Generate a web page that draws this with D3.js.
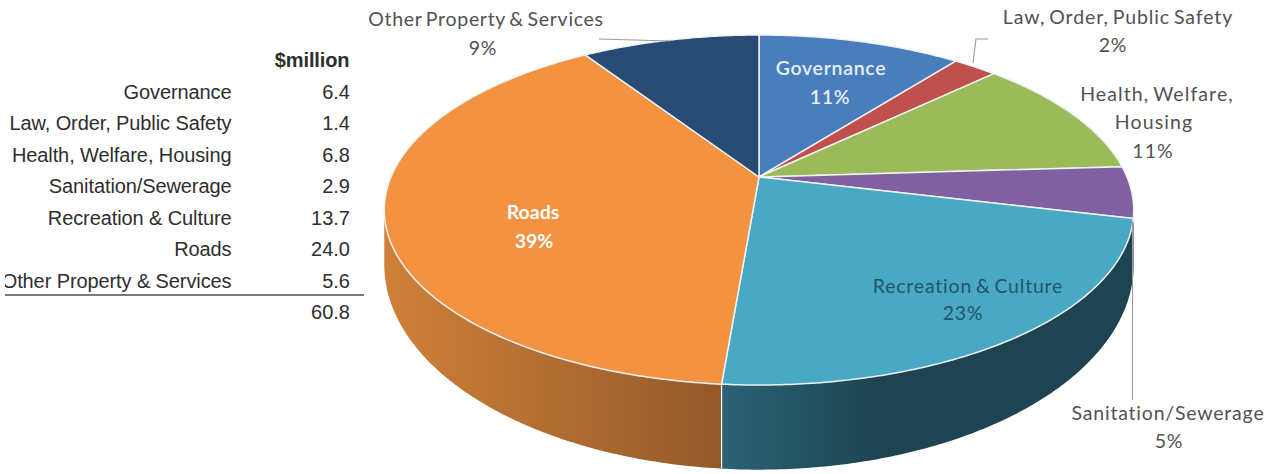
<!DOCTYPE html>
<html>
<head>
<meta charset="utf-8">
<script src="https://cdn.jsdelivr.net/npm/d3@7/dist/d3.min.js"></script>
<style>
html,body{margin:0;padding:0;background:#fff;}
svg{display:block;}
.tbl{font-family:"Liberation Sans",Arial,sans-serif;font-size:20px;fill:#2e2e2e;}
.lbl{font-family:Lato,"Open Sans",sans-serif;font-size:19.5px;text-anchor:middle;fill:#505050;word-spacing:-2px;}
</style>
</head>
<body>
<svg id="chart" width="1266" height="474"></svg>
<script>
// Council spending by function, $ million
const categories = ["Governance","Law, Order, Public Safety","Health, Welfare, Housing","Sanitation/Sewerage","Recreation & Culture","Roads","Other Property & Services"];
const spending = [6.4,1.4,6.8,2.9,13.7,24.0,5.6];
const totalLabel = "60.8";
const topColours = ["#4a7dbb","#c0504d","#9bbb59","#8060a0","#49a8c4","#f39240","#284b74"];
const wallFrom = ["#3b6495","#9a403e","#7c9647","#66507f","#2b6275","#cf8138","#203c5d"];
const wallTo = ["#3b6495","#9a403e","#7c9647","#66507f","#1d4450","#93592a","#203c5d"];
const labelLines = [
  ["Governance","11%"],
  ["Law, Order, Public Safety","2%"],
  ["Health, Welfare,","Housing","11%"],
  ["Sanitation/Sewerage","5%"],
  ["Recreation & Culture","23%"],
  ["Roads","39%"],
  ["Other Property & Services","9%"]
];

const svg = d3.select("#chart");
const defs = svg.append("defs");

/* ---------- summary table ---------- */
defs.append("clipPath").attr("id","tableClip").append("rect")
  .attr("x",5).attr("y",40).attr("width",360).attr("height",290);
const table = svg.append("g").attr("clip-path","url(#tableClip)");
const rowY = d3.scalePoint().domain(categories.concat("total")).range([99,319]);

table.append("text").attr("class","tbl").attr("x",349.5).attr("y",67)
  .attr("text-anchor","end").attr("font-weight","bold").style("letter-spacing","-0.1px").text("$million");
table.selectAll("text.name").data(categories).join("text")
  .attr("class","tbl name").attr("x",231.5).attr("y",d=>rowY(d))
  .attr("text-anchor","end").style("letter-spacing","-0.1px").text(d=>d);
table.selectAll("text.amount").data(spending).join("text")
  .attr("class","tbl amount").attr("x",350).attr("y",(d,i)=>rowY(categories[i]))
  .attr("text-anchor","end").text(d=>d.toFixed(1));
table.append("text").attr("class","tbl").attr("x",350).attr("y",rowY("total"))
  .attr("text-anchor","end").text(totalLabel);
svg.append("line").attr("x1",5).attr("x2",364).attr("y1",295).attr("y2",295)
  .attr("stroke","#4d4d4d").attr("stroke-width",1.6);

/* ---------- pie in perspective ---------- */
const tilt = 0.1886;                // foreshortening of the far edge
const x = d3.scaleLinear().domain([-1,1]).range([391,1127]);
const yTop = d3.scaleLinear().domain([-1,1]).range([177-168.8,177+168.8]);
const yBase = d3.scaleLinear().domain([-1,1]).range([226-197.7,226+197.7]);

function project(angle, yScale){
  const ux = Math.sin(angle), uy = -Math.cos(angle), w = 1 - tilt*uy;
  return [x(ux/w), yScale(uy/w)];
}
function arcPoints(a0, a1, yScale){
  const n = Math.max(2, Math.ceil(Math.abs(a1-a0)/0.01));
  return d3.range(n+1).map(i => project(a0+(a1-a0)*i/n, yScale));
}
const line = d3.line();
const slices = d3.pie().sort(null).value(d=>d)(spending);

// the rim is visible only between the two silhouette angles
const rimStart = Math.acos(-tilt), rimEnd = 2*Math.PI - rimStart;

const rim = svg.append("g");
slices.forEach((s,i)=>{
  const a0 = Math.max(s.startAngle, rimStart), a1 = Math.min(s.endAngle, rimEnd);
  if (a1 <= a0) return;
  const upper = arcPoints(a0,a1,yTop), lower = arcPoints(a1,a0,yBase);
  const g = defs.append("linearGradient").attr("id","rim"+i).attr("gradientUnits","userSpaceOnUse");
  const xs = upper.map(p=>p[0]);
  const left = d3.min(xs), right = d3.max(xs);
  g.attr("x1",left).attr("x2",right).attr("y1",0).attr("y2",0);
  // the lit side of the rim is toward the left of the pie
  if (categories[i]==="Recreation & Culture"){
    g.attr("x1",right).attr("x2",left);
    g.append("stop").attr("offset",0).attr("stop-color",wallTo[i]);
    g.append("stop").attr("offset",0.62).attr("stop-color",wallTo[i]);
    g.append("stop").attr("offset",1).attr("stop-color",wallFrom[i]);
  } else {
    g.append("stop").attr("offset",0).attr("stop-color",wallFrom[i]);
    g.append("stop").attr("offset",1).attr("stop-color",wallTo[i]);
  }
  rim.append("path").attr("d",line(upper.concat(lower))+"Z")
    .attr("fill",`url(#rim${i})`);
});
// white seam where two rim faces meet
const seam = slices[4].endAngle;
rim.append("path").attr("d",line([project(seam,yTop),project(seam,yBase)]))
  .attr("stroke","#fff").attr("stroke-width",1.2).attr("fill","none");

const apex = [x(0),yTop(0)];
svg.append("g").selectAll("path").data(slices).join("path")
  .attr("d",s=>line([apex].concat(arcPoints(s.startAngle,s.endAngle,yTop)))+"Z")
  .attr("fill",(s,i)=>topColours[i])
  .attr("stroke","#eef2f4").attr("stroke-width",1.5).attr("stroke-linejoin","round");

/* ---------- leader lines ---------- */
const leaders = [
  [[973,63],[976,39],[988,39]],
  [[599,39],[670,41]],
  [[1132.5,222],[1132.5,400]]
];
svg.append("g").selectAll("path").data(leaders).join("path")
  .attr("d",line).attr("fill","none").attr("stroke","#9a9a9a").attr("stroke-width",1.1);

/* ---------- data labels ---------- */
const labelPlaces = [
  {x:[831,830],y:[75,104],fill:"#e6f0fa",weight:600,spacing:0.7},
  {x:[1118,1113],y:[24,52],fill:"#525252",weight:400,spacing:0.9},
  {x:[1157,1154,1153],y:[101,129,158],fill:"#525252",weight:400,spacing:1.1},
  {x:[1168,1169],y:[420,448],fill:"#525252",weight:400,spacing:0.8},
  {x:[968,963],y:[293,320],fill:"#22566c",weight:400,spacing:0.8},
  {x:[533,534],y:[219,248],fill:"#ffffff",weight:700,spacing:0},
  {x:[486,483],y:[26,55],fill:"#525252",weight:400,spacing:0.7}
];
const labels = svg.append("g");
labelLines.forEach((rows,i)=>{
  const p = labelPlaces[i];
  rows.forEach((t,j)=>{
    labels.append("text").attr("class","lbl").attr("x",p.x[j]).attr("y",p.y[j])
      .attr("font-weight",p.weight).style("fill",p.fill)
      .style("letter-spacing",p.spacing+"px").text(t);
  });
});
</script>
</body>
</html>
